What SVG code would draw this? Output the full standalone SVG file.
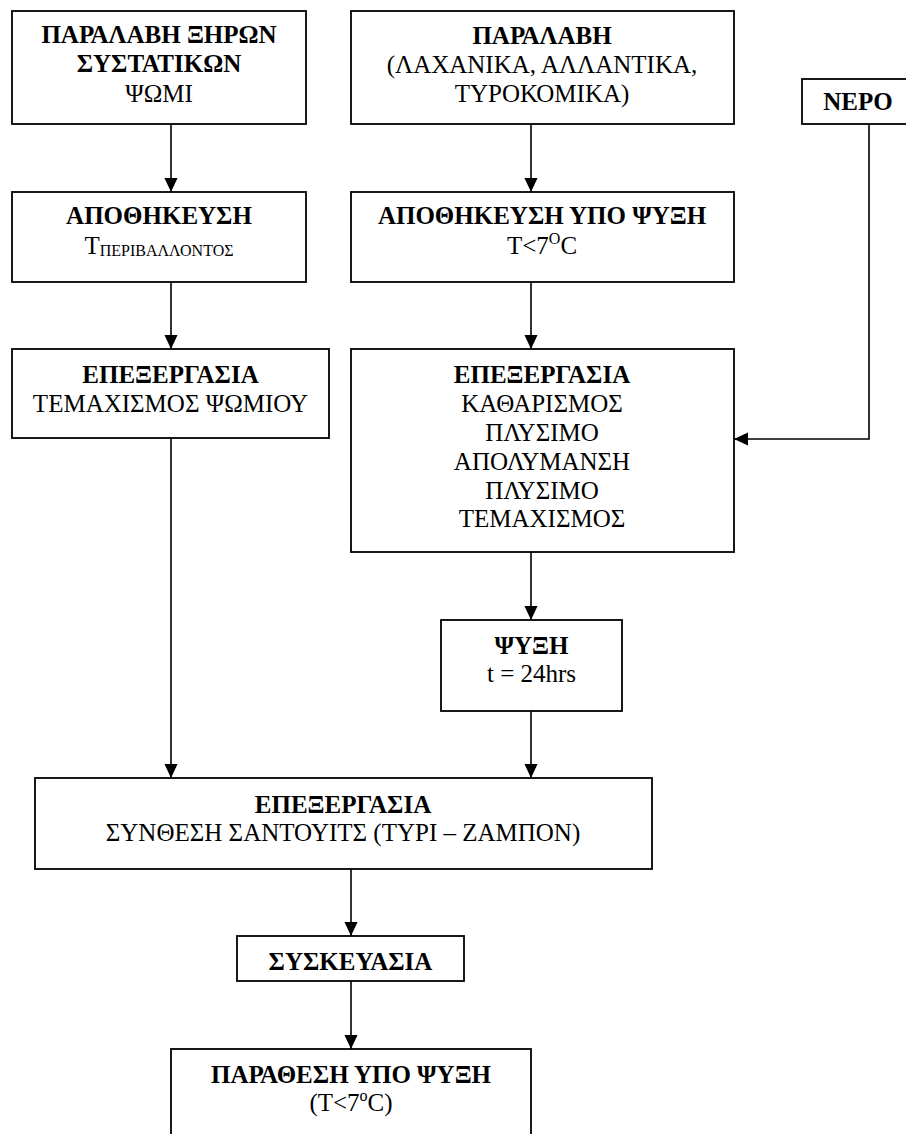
<svg xmlns="http://www.w3.org/2000/svg" width="906" height="1134" viewBox="0 0 906 1134">
<style>
.box{fill:#fff;stroke:#000;stroke-width:1.8}
.t{font-family:'Liberation Serif','DejaVu Serif',serif;font-size:25px;text-anchor:middle;fill:#000}
.b{font-weight:bold}
.con{fill:none;stroke:#000;stroke-width:1.6}
</style>
<defs>
<marker id="ah" markerUnits="userSpaceOnUse" markerWidth="14" markerHeight="15" refX="15" refY="7" orient="auto" viewBox="0 0 15 14">
<path d="M0,0 L15,7 L0,14 z" fill="#000"/>
</marker>
</defs>
<rect width="906" height="1134" fill="#fff"/>
<g id="connectors">
<path class="con" d="M171,124 V192" marker-end="url(#ah)"/>
<path class="con" d="M171,282 V349" marker-end="url(#ah)"/>
<path class="con" d="M171,438 V778" marker-end="url(#ah)"/>
<path class="con" d="M531,124 V192" marker-end="url(#ah)"/>
<path class="con" d="M531,282 V349" marker-end="url(#ah)"/>
<path class="con" d="M531,552 V620" marker-end="url(#ah)"/>
<path class="con" d="M531,711 V778" marker-end="url(#ah)"/>
<path class="con" d="M351,869 V936" marker-end="url(#ah)"/>
<path class="con" d="M351,981 V1049" marker-end="url(#ah)"/>
<path class="con" d="M869,124 V439 H734" marker-end="url(#ah)"/>
</g>
<g id="n1">
<rect class="box" x="12" y="11" width="294" height="113"/>
<text class="t b" x="159" y="43">ΠΑΡΑΛΑΒΗ ΞΗΡΩΝ</text>
<text class="t b" x="159" y="72">ΣΥΣΤΑΤΙΚΩΝ</text>
<text class="t" x="159" y="102">ΨΩΜΙ</text>
</g>
<g id="n2">
<rect class="box" x="351" y="11" width="383" height="113"/>
<text class="t b" x="542" y="44">ΠΑΡΑΛΑΒΗ</text>
<text class="t" x="542" y="73">(ΛΑΧΑΝΙΚΑ, ΑΛΛΑΝΤΙΚΑ,</text>
<text class="t" x="542" y="102">ΤΥΡΟΚΟΜΙΚΑ)</text>
</g>
<g id="n_water">
<rect class="box" x="802" y="79" width="112" height="45"/>
<text class="t b" x="858" y="110">ΝΕΡΟ</text>
</g>
<g id="n3">
<rect class="box" x="12" y="192" width="294" height="90"/>
<text class="t b" x="159" y="224">ΑΠΟΘΗΚΕΥΣΗ</text>
<text class="t" x="159" y="254">Τ<tspan font-size="16" dy="2">ΠΕΡΙΒΑΛΛΟΝΤΟΣ</tspan></text>
</g>
<g id="n4">
<rect class="box" x="351" y="192" width="383" height="90"/>
<text class="t b" x="542" y="224">ΑΠΟΘΗΚΕΥΣΗ ΥΠΟ ΨΥΞΗ</text>
<text class="t" x="542" y="254">T&lt;7<tspan font-size="16" dy="-10">O</tspan><tspan dy="10">C</tspan></text>
</g>
<g id="n5">
<rect class="box" x="12" y="349" width="317" height="89"/>
<text class="t b" x="170.5" y="383">ΕΠΕΞΕΡΓΑΣΙΑ</text>
<text class="t" x="170.5" y="412">ΤΕΜΑΧΙΣΜΟΣ ΨΩΜΙΟΥ</text>
</g>
<g id="n6">
<rect class="box" x="351" y="349" width="383" height="203"/>
<text class="t b" x="542" y="383">ΕΠΕΞΕΡΓΑΣΙΑ</text>
<text class="t" x="542" y="412">ΚΑΘΑΡΙΣΜΟΣ</text>
<text class="t" x="542" y="441">ΠΛΥΣΙΜΟ</text>
<text class="t" x="542" y="470">ΑΠΟΛΥΜΑΝΣΗ</text>
<text class="t" x="542" y="499">ΠΛΥΣΙΜΟ</text>
<text class="t" x="542" y="527">ΤΕΜΑΧΙΣΜΟΣ</text>
</g>
<g id="n7">
<rect class="box" x="441" y="620" width="181" height="91"/>
<text class="t b" x="531.5" y="654">ΨΥΞΗ</text>
<text class="t" x="531.5" y="682">t = 24hrs</text>
</g>
<g id="n8">
<rect class="box" x="35" y="778" width="617" height="91"/>
<text class="t b" x="343" y="813">ΕΠΕΞΕΡΓΑΣΙΑ</text>
<text class="t" x="343" y="841">ΣΥΝΘΕΣΗ ΣΑΝΤΟΥΙΤΣ (ΤΥΡΙ – ΖΑΜΠΟΝ)</text>
</g>
<g id="n9">
<rect class="box" x="237" y="936" width="227" height="45"/>
<text class="t b" x="350.5" y="970">ΣΥΣΚΕΥΑΣΙΑ</text>
</g>
<g id="n10">
<rect class="box" x="171" y="1049" width="360" height="100"/>
<text class="t b" x="351" y="1083">ΠΑΡΑΘΕΣΗ ΥΠΟ ΨΥΞΗ</text>
<text class="t" x="351" y="1111">(T&lt;7<tspan font-size="16" dy="-10">o</tspan><tspan dy="10">C)</tspan></text>
</g>
</svg>
